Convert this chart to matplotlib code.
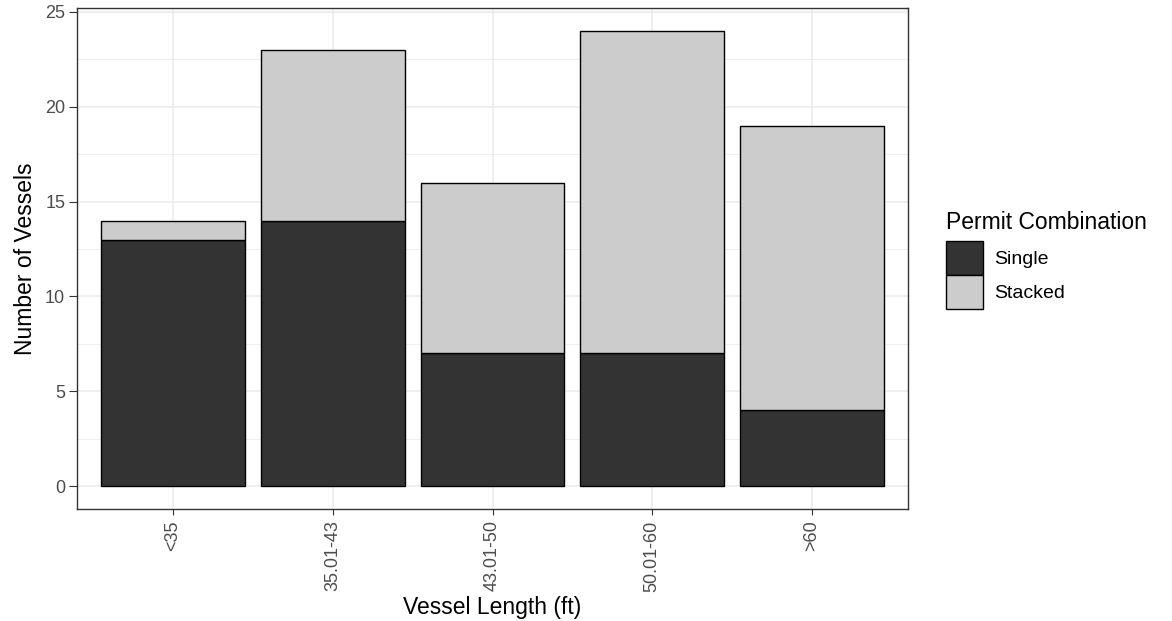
import matplotlib
matplotlib.use("Agg")
import matplotlib.pyplot as plt
import numpy as np
from matplotlib.patches import Patch

plt.rcParams['font.family'] = ['Liberation Sans', 'DejaVu Sans']

categories = ["<35", "35.01-43", "43.01-50", "50.01-60", ">60"]
single = [13, 14, 7, 7, 4]
stacked = [1, 9, 9, 17, 15]
series_names = ["Single", "Stacked"]
colors = ["#333333", "#CCCCCC"]

W, H = 1172, 621
fig = plt.figure(figsize=(W / 100, H / 100), dpi=100)
ax = fig.add_axes([77 / W, (H - 509) / H, (908 - 77) / W, (509 - 8) / H])

x = np.arange(1, len(categories) + 1)
ax.bar(x, single, width=0.9, color=colors[0], edgecolor="black", linewidth=1.0, zorder=3)
ax.bar(x, stacked, width=0.9, bottom=single, color=colors[1], edgecolor="black", linewidth=1.0, zorder=3)

ax.set_xlim(0.4, 5.6)
ax.set_ylim(-1.2, 25.2)
ax.set_yticks([0, 5, 10, 15, 20, 25])
ax.set_yticks([2.5, 7.5, 12.5, 17.5, 22.5], minor=True)
ax.set_xticks(x)
ax.set_xticklabels(categories, rotation=90)
ax.grid(True, which="major", color="#EBEBEB", linewidth=1.1, zorder=0)
ax.grid(True, which="minor", axis="y", color="#EBEBEB", linewidth=0.6, zorder=0)
ax.set_axisbelow(True)
ax.tick_params(axis="both", which="major", colors="#333333", labelcolor="#4D4D4D",
               labelsize=13, width=0.8)
ax.tick_params(axis="x", which="major", length=4.2, pad=4)
ax.tick_params(axis="y", which="major", length=5.5, pad=3)
ax.tick_params(axis="y", which="minor", length=0)
for s in ax.spines.values():
    s.set_color("#333333")
    s.set_linewidth(1.0)

ax.set_xlabel("Vessel Length (ft)", fontsize=16.5, color="black", labelpad=3)
ax.set_ylabel("Number of Vessels", fontsize=16.5, color="black", labelpad=6)

handles = [Patch(facecolor=c, edgecolor="black", linewidth=1.0) for c in colors]
leg = fig.legend(handles, series_names, title="Permit Combination",
                 loc="upper left", bbox_to_anchor=(946 / W, 1 - 211 / H),
                 frameon=False, fontsize=14, title_fontsize=16.5,
                 handlelength=1.9, handleheight=2.3, handletextpad=0.6,
                 labelspacing=0.0, borderaxespad=0, borderpad=0)
leg._legend_box.align = "left"
leg._legend_box.sep = 5

fig.savefig("out.png", dpi=100)
